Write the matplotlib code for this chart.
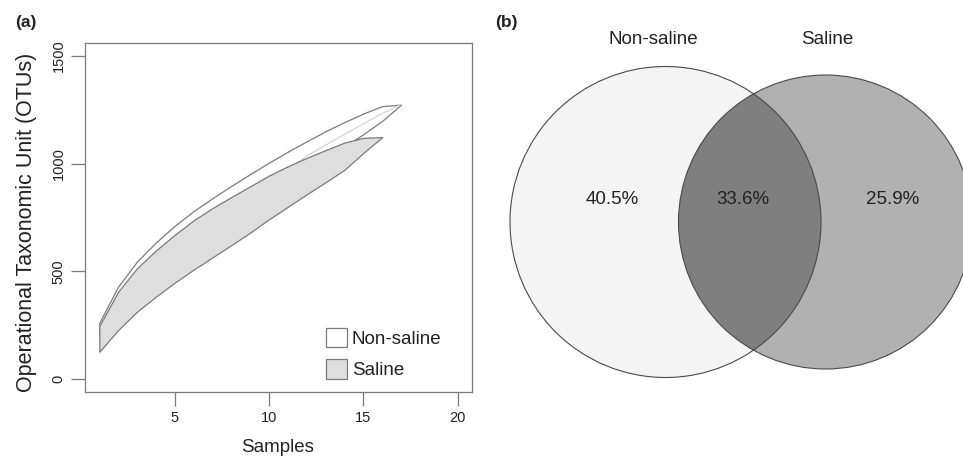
#!/usr/bin/env python3
import matplotlib
matplotlib.use("Agg")
import matplotlib.pyplot as plt
from matplotlib.patches import Patch, Circle

plt.rcParams["font.family"] = ["Liberation Sans", "DejaVu Sans"]

# -----------------------------
# (a) OTU accumulation curves
# -----------------------------
samples_ns = list(range(1, 18))
ns_upper = [262, 430, 546, 634, 712, 780, 840, 897, 952, 1005, 1056, 1104, 1151, 1193, 1233, 1267, 1274]
ns_mean = [235, 390, 495, 575, 645, 710, 765, 815, 865, 915, 970, 1036, 1086, 1136, 1185, 1233, 1274]
ns_lower = [208, 350, 444, 516, 578, 640, 690, 733, 778, 825, 884, 968, 1021, 1079, 1137, 1199, 1274]

samples_s = list(range(1, 17))
s_upper = [247, 406, 515, 597, 670, 737, 794, 845, 895, 945, 988, 1027, 1063, 1098, 1120, 1123]
s_lower = [127, 228, 313, 383, 448, 508, 565, 622, 680, 742, 800, 858, 914, 972, 1050, 1123]

x_ticks = [5, 10, 15, 20]
y_ticks = [0, 500, 1000, 1500]
legend_labels = ["Non-saline", "Saline"]

# -----------------------------
# (b) Venn diagram
# -----------------------------
set_labels = ["Non-saline", "Saline"]
venn_pct = [40.5, 33.6, 25.9]   # only non-saline, shared, only saline

W, H = 963, 458
fig = plt.figure(figsize=(W / 100, H / 100), dpi=100)

grey = "#7a7a7a"
txt = "#222222"

ax = fig.add_axes([85 / W, 1 - 392 / H, 387 / W, 349 / H])
ax.fill_between(samples_ns, ns_lower, ns_upper, facecolor="white",
                edgecolor=grey, linewidth=0.9, zorder=2)
ax.plot(samples_ns, ns_mean, color="#d4d4d4", linewidth=0.9, zorder=3)
ax.fill_between(samples_s, s_lower, s_upper, facecolor="#dedede",
                edgecolor=grey, linewidth=0.9, zorder=4)

ax.set_xlim(0.24, 20.76)
ax.set_ylim(-60, 1560)
ax.set_xticks(x_ticks)
ax.set_yticks(y_ticks)
ax.set_yticklabels([str(v) for v in y_ticks], rotation=90, va="center")
ax.tick_params(axis="both", direction="out", length=10, width=0.9,
               color=grey, labelcolor=txt, labelsize=10.5, pad=4)
for sp in ax.spines.values():
    sp.set_color(grey)
    sp.set_linewidth(0.9)

fig.text(27 / W, 1 - 222 / H, "Operational Taxonomic Unit (OTUs)",
         rotation=90, ha="center", va="center", fontsize=15.5, color=txt)
fig.text(278 / W, 1 - 447 / H, "Samples", ha="center", va="center",
         fontsize=13.5, color=txt)

handles = [Patch(facecolor="white", edgecolor=grey, linewidth=0.9),
           Patch(facecolor="#dedede", edgecolor=grey, linewidth=0.9)]
ax.legend(handles, legend_labels, loc="lower right", frameon=False,
          fontsize=13.5, handlelength=1.1, handleheight=1.2,
          handletextpad=0.25, labelspacing=0.6, borderaxespad=0,
          bbox_to_anchor=(0.94, 0.015), labelcolor=txt)

fig.text(15 / W, 1 - 22 / H, "(a)", fontsize=12.5, fontweight="bold",
         ha="left", va="center", color=txt)
fig.text(495 / W, 1 - 22 / H, "(b)", fontsize=12.5, fontweight="bold",
         ha="left", va="center", color=txt)

# Venn panel, one data unit = one pixel
vx0 = 481.5
ax2 = fig.add_axes([vx0 / W, 0, (W - vx0) / W, 1])
ax2.set_xlim(vx0, W)
ax2.set_ylim(H, 0)
ax2.axis("off")

c1 = (665.5, 222.0, 155.5)
c2 = (825.5, 222.0, 147.0)

left = Circle(c1[:2], c1[2], facecolor="#f4f4f4", edgecolor="none", zorder=1)
right = Circle(c2[:2], c2[2], facecolor="#b1b1b1", edgecolor="none", zorder=2)
ax2.add_patch(left)
ax2.add_patch(right)
lens = Circle(c2[:2], c2[2], facecolor="#7f7f7f", edgecolor="none", zorder=3)
ax2.add_patch(lens)
lens.set_clip_path(left)
for c in (c1, c2):
    ax2.add_patch(Circle(c[:2], c[2], facecolor="none", edgecolor="#4a4a4a",
                         linewidth=0.8, zorder=4))

ax2.text(c1[0] - 12, 40, set_labels[0], ha="center", va="center",
         fontsize=13.5, color=txt)
ax2.text(c2[0] + 2, 40, set_labels[1], ha="center", va="center",
         fontsize=13.5, color=txt)

lens_l = c2[0] - c2[2]
lens_r = c1[0] + c1[2]
pos_x = [(c1[0] - c1[2] + lens_l) / 2 + 18, (lens_l + lens_r) / 2 - 7,
         (lens_r + c2[0] + c2[2]) / 2 - 4]
for x, v in zip(pos_x, venn_pct):
    ax2.text(x, 200, f"{v:.1f}%", ha="center", va="center",
             fontsize=13.5, color=txt, zorder=5)

plt.savefig("out.png", dpi=100)
plt.close()
